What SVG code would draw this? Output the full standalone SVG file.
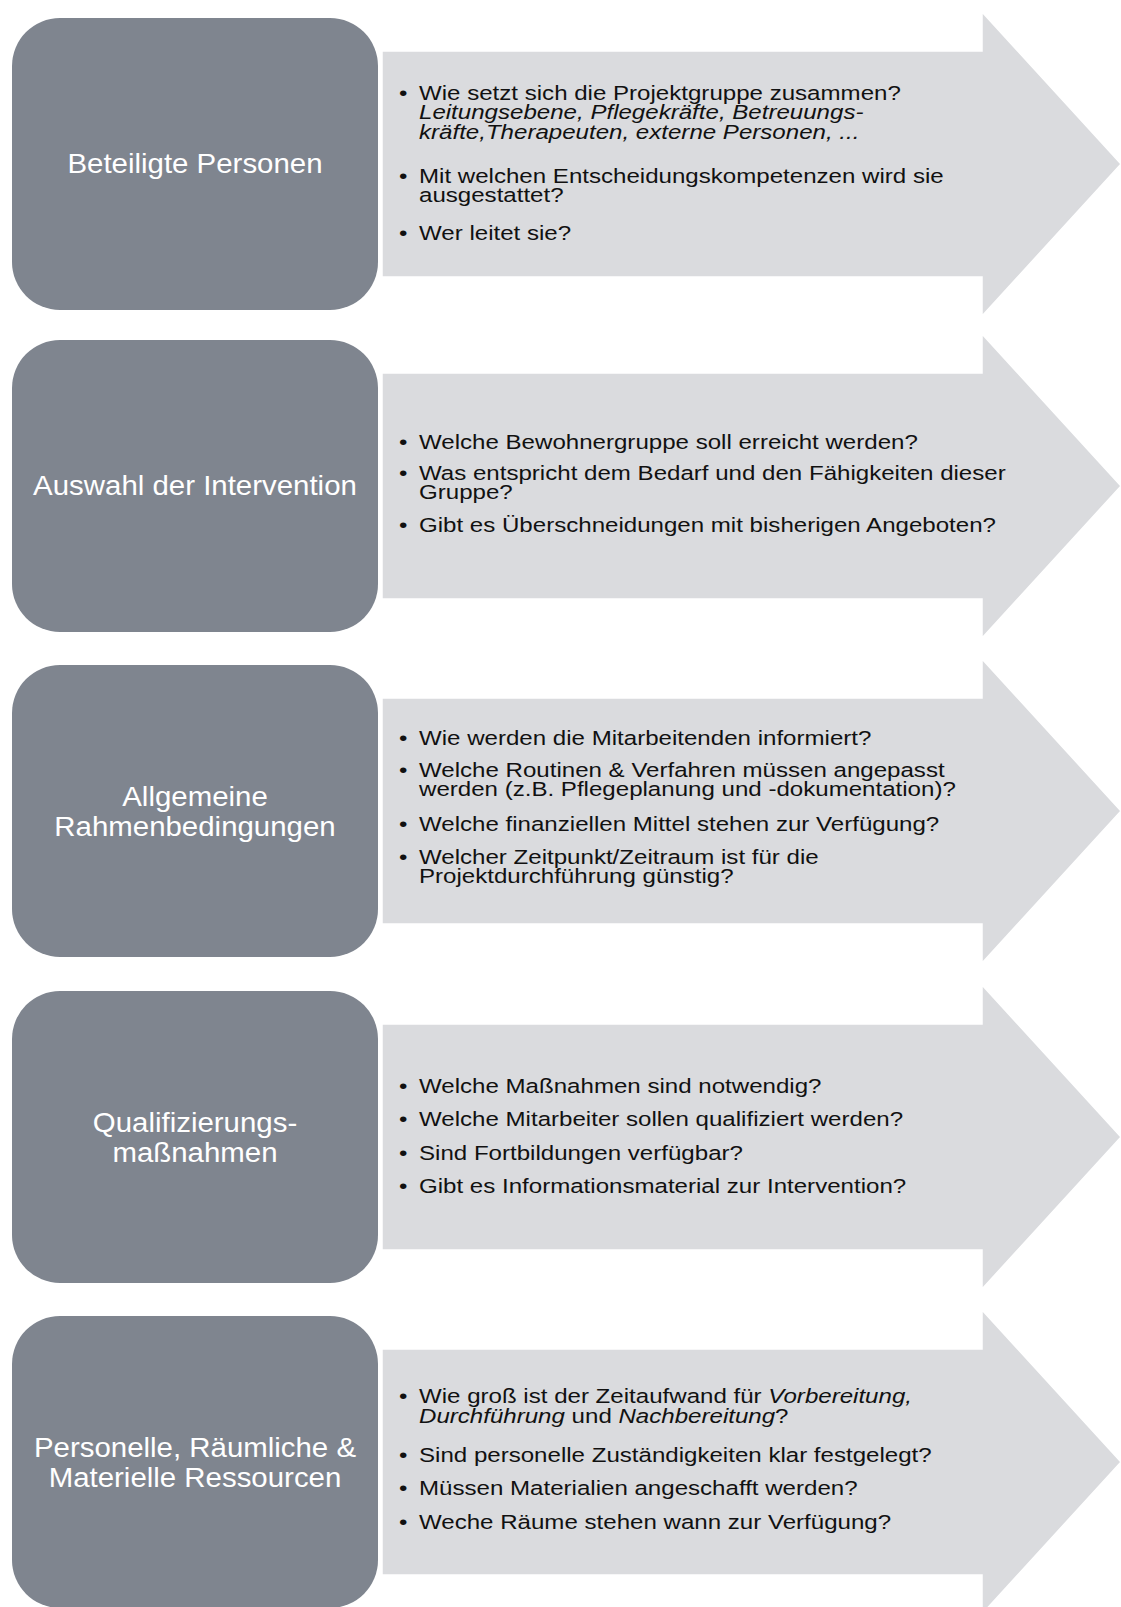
<svg xmlns="http://www.w3.org/2000/svg" width="1121" height="1607" viewBox="0 0 1121 1607">
<defs>
<style>
.box{fill:#7f858f;}
.arrow{fill:#dadbde;stroke:#ffffff;stroke-width:1.5;}
.lbl{font-family:"Liberation Sans",Arial,sans-serif;font-size:27.5px;fill:#ffffff;text-anchor:middle;}
.txt{font-family:"Liberation Sans",Arial,sans-serif;font-size:20.5px;fill:#111111;}
.it{font-style:italic;}
</style>
<path id="arr" d="M382,-113 H982 V-152 L1121,0 L982,152 V113 H382 Z"/>
</defs>
<rect width="1121" height="1607" fill="#ffffff"/>

<g id="connectors">
<use href="#arr" class="arrow" transform="translate(0,164)"/>
<use href="#arr" class="arrow" transform="translate(0,486)"/>
<use href="#arr" class="arrow" transform="translate(0,811)"/>
<use href="#arr" class="arrow" transform="translate(0,1137)"/>
<use href="#arr" class="arrow" transform="translate(0,1462)"/>
</g>

<g id="node1">
<rect class="box" x="12" y="18" width="366" height="292" rx="48" ry="48"/>
<text class="lbl" transform="matrix(1.07,0,0,1,-13.65,0)" x="195" y="173">Beteiligte Personen</text>
</g>
<g id="text1" class="txt" transform="matrix(1.175,0,0,1,-73.325,0)">
<text x="402" y="100">•</text><text x="419" y="100">Wie setzt sich die Projektgruppe zusammen?</text>
<text class="it" x="419" y="119.5">Leitungsebene, Pflegekräfte, Betreuungs-</text>
<text class="it" x="419" y="139">kräfte,Therapeuten, externe Personen, ...</text>
<text x="402" y="183">•</text><text x="419" y="183">Mit welchen Entscheidungskompetenzen wird sie</text>
<text x="419" y="202.5">ausgestattet?</text>
<text x="402" y="240">•</text><text x="419" y="240">Wer leitet sie?</text>
</g>

<g id="node2">
<rect class="box" x="12" y="340" width="366" height="292" rx="48" ry="48"/>
<text class="lbl" transform="matrix(1.07,0,0,1,-13.65,0)" x="195" y="495">Auswahl der Intervention</text>
</g>
<g id="text2" class="txt" transform="matrix(1.175,0,0,1,-73.325,0)">
<text x="402" y="449">•</text><text x="419" y="449">Welche Bewohnergruppe soll erreicht werden?</text>
<text x="402" y="480">•</text><text x="419" y="480">Was entspricht dem Bedarf und den Fähigkeiten dieser</text>
<text x="419" y="499.5">Gruppe?</text>
<text x="402" y="532">•</text><text x="419" y="532">Gibt es Überschneidungen mit bisherigen Angeboten?</text>
</g>

<g id="node3">
<rect class="box" x="12" y="665" width="366" height="292" rx="48" ry="48"/>
<text class="lbl" transform="matrix(1.07,0,0,1,-13.65,0)" x="195" y="806">Allgemeine</text>
<text class="lbl" transform="matrix(1.07,0,0,1,-13.65,0)" x="195" y="836">Rahmenbedingungen</text>
</g>
<g id="text3" class="txt" transform="matrix(1.175,0,0,1,-73.325,0)">
<text x="402" y="745">•</text><text x="419" y="745">Wie werden die Mitarbeitenden informiert?</text>
<text x="402" y="777">•</text><text x="419" y="777">Welche Routinen &amp; Verfahren müssen angepasst</text>
<text x="419" y="796.5">werden (z.B. Pflegeplanung und -dokumentation)?</text>
<text x="402" y="831">•</text><text x="419" y="831">Welche finanziellen Mittel stehen zur Verfügung?</text>
<text x="402" y="864">•</text><text x="419" y="864">Welcher Zeitpunkt/Zeitraum ist für die</text>
<text x="419" y="883.5">Projektdurchführung günstig?</text>
</g>

<g id="node4">
<rect class="box" x="12" y="991" width="366" height="292" rx="48" ry="48"/>
<text class="lbl" transform="matrix(1.07,0,0,1,-13.65,0)" x="195" y="1132">Qualifizierungs-</text>
<text class="lbl" transform="matrix(1.07,0,0,1,-13.65,0)" x="195" y="1162">maßnahmen</text>
</g>
<g id="text4" class="txt" transform="matrix(1.175,0,0,1,-73.325,0)">
<text x="402" y="1093">•</text><text x="419" y="1093">Welche Maßnahmen sind notwendig?</text>
<text x="402" y="1126">•</text><text x="419" y="1126">Welche Mitarbeiter sollen qualifiziert werden?</text>
<text x="402" y="1160">•</text><text x="419" y="1160">Sind Fortbildungen verfügbar?</text>
<text x="402" y="1193">•</text><text x="419" y="1193">Gibt es Informationsmaterial zur Intervention?</text>
</g>

<g id="node5">
<rect class="box" x="12" y="1316" width="366" height="292" rx="48" ry="48"/>
<text class="lbl" transform="matrix(1.07,0,0,1,-13.65,0)" x="195" y="1457">Personelle, Räumliche &amp;</text>
<text class="lbl" transform="matrix(1.07,0,0,1,-13.65,0)" x="195" y="1487">Materielle Ressourcen</text>
</g>
<g id="text5" class="txt" transform="matrix(1.175,0,0,1,-73.325,0)">
<text x="402" y="1403.5">•</text><text x="419" y="1403.5">Wie groß ist der Zeitaufwand für <tspan class="it">Vorbereitung,</tspan></text>
<text x="419" y="1423"><tspan class="it">Durchführung</tspan> und <tspan class="it">Nachbereitung</tspan>?</text>
<text x="402" y="1462">•</text><text x="419" y="1462">Sind personelle Zuständigkeiten klar festgelegt?</text>
<text x="402" y="1495">•</text><text x="419" y="1495">Müssen Materialien angeschafft werden?</text>
<text x="402" y="1529">•</text><text x="419" y="1529">Weche Räume stehen wann zur Verfügung?</text>
</g>
</svg>
